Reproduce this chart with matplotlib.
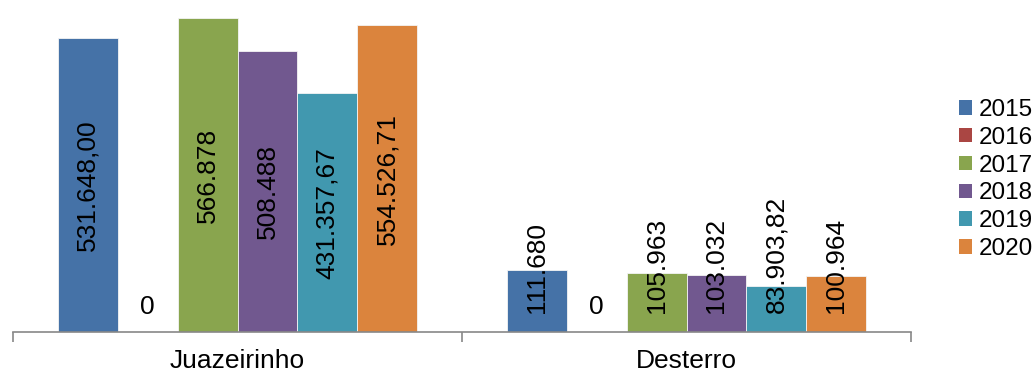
import numpy as np
import matplotlib
matplotlib.use("Agg")
import matplotlib.pyplot as plt
from matplotlib.patches import Patch

plt.rcParams['font.family'] = ['Liberation Sans', 'DejaVu Sans']

municipios = ["Juazeirinho", "Desterro"]
anos = ["2015", "2016", "2017", "2018", "2019", "2020"]
juazeirinho = [531648.00, 0, 566878, 508488, 431357.67, 554526.71]
desterro = [111680, 0, 105963, 103032, 83903.82, 100964]
# casas decimais exibidas em cada rótulo
dec_juazeirinho = [2, 0, 0, 0, 2, 2]
dec_desterro = [0, 0, 0, 0, 2, 0]
cores = ["#4572A7", "#AA4643", "#89A54E", "#71588F", "#4198AF", "#DB843D"]


def formata_br(v, casas):
    s = f"{v:,.{casas}f}"
    return s.replace(",", "X").replace(".", ",").replace("X", ".")


valores = [juazeirinho, desterro]
decimais = [dec_juazeirinho, dec_desterro]

fig = plt.figure(figsize=(10.34, 3.74), dpi=100)
ax = fig.add_axes([0.0126, 0.1123, 0.8685, 0.8877])

largura = 0.8 / len(anos)
x = np.arange(len(municipios))
fs = 19

for i, ano in enumerate(anos):
    alturas = [valores[g][i] for g in range(len(municipios))]
    pos = x - 0.4 + largura * (i + 0.5)
    ax.bar(pos, alturas, width=largura, color=cores[i],
           edgecolor="#f4f4f4", linewidth=0.6, label=ano)
    for g in range(len(municipios)):
        v = alturas[g]
        txt = formata_br(v, decimais[g][i])
        if v == 0:
            ax.annotate(txt, (pos[g], 0), xytext=(0, 18), textcoords="offset points",
                        ha="center", va="center", fontsize=fs)
        elif g == 0:
            ax.text(pos[g], v / 2, txt, rotation=90, ha="center", va="center",
                    fontsize=fs)
        else:
            ax.annotate(txt, (pos[g], 0), xytext=(0, 14), textcoords="offset points",
                        rotation=90, ha="center", va="bottom", fontsize=fs)

ax.set_xlim(-0.5, len(municipios) - 0.5)
ax.set_ylim(0, 600000)

for lado in ["top", "right", "left"]:
    ax.spines[lado].set_visible(False)
ax.spines["bottom"].set_color("#888888")
ax.spines["bottom"].set_linewidth(1.2)
ax.set_yticks([])

ax.set_xticks(x)
ax.set_xticklabels(municipios, fontsize=fs)
ax.tick_params(axis="x", which="major", length=0, pad=12)
ax.set_xticks(np.arange(len(municipios) + 1) - 0.5, minor=True)
ax.tick_params(axis="x", which="minor", length=7, width=1.2, color="#888888")

handles = [Patch(facecolor=c, edgecolor="none") for c in cores]
fig.legend(handles, anos, loc="center left", bbox_to_anchor=(0.918, 0.52),
           frameon=False, fontsize=17.5, handlelength=0.55, handleheight=0.55,
           handletextpad=0.25, labelspacing=0.24, borderaxespad=0)

fig.savefig("out.png", dpi=100)
